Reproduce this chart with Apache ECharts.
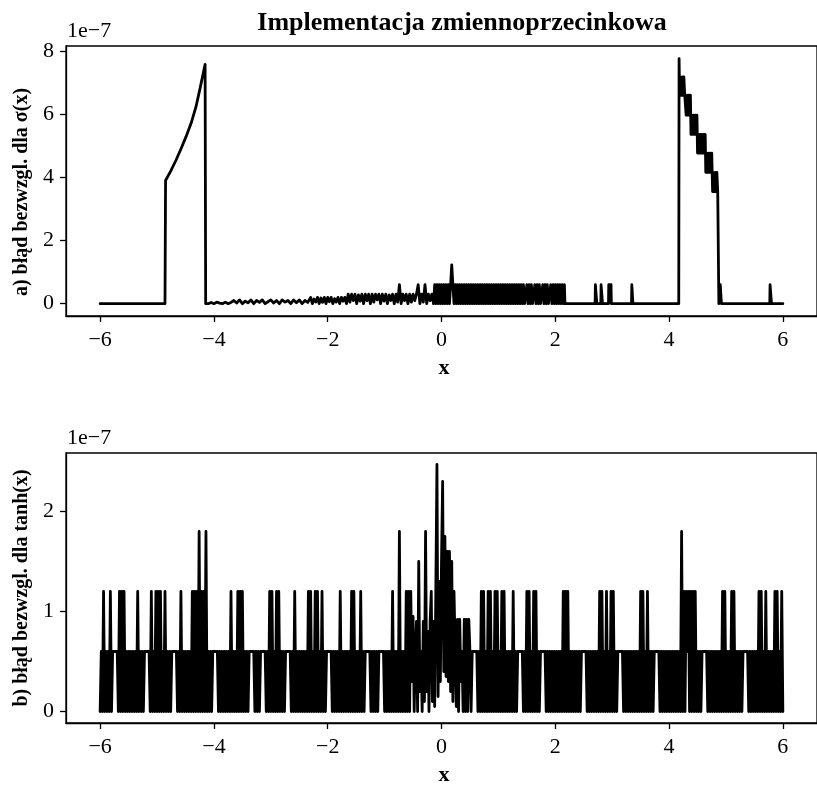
<!DOCTYPE html>
<html><head><meta charset="utf-8">
<script src="https://cdn.jsdelivr.net/npm/echarts@6/dist/echarts.min.js"></script>
<style>html,body{margin:0;padding:0;background:#fff}#c{width:817px;height:785px}</style>
</head><body><div id="c"></div>
<script>
// values in units of 1e-7
const xTicks = [-6, -4, -2, 0, 2, 4, 6];
const sigmaTicks = [0, 2, 4, 6, 8];
const tanhTicks = [0, 1, 2];

// sigma: left peak
const sigmaPeakX = [-6, -4.86, -4.85, -4.76, -4.665, -4.58, -4.49, -4.40, -4.316, -4.24, -4.155, -4.145];
const sigmaPeakY = [0, 0, 3.9, 4.2, 4.55, 4.9, 5.29, 5.72, 6.23, 6.85, 7.58, 0];

// sigma: far low noise, x from -4.10 step 0.05
const sigmaFarX0 = -4.10, sigmaFarDX = 0.05;
const sigmaFar = [
  0, 0.04, 0, 0.05, 0.02, 0, 0.05, 0, 0.04,
  0.1, 0.02, 0.12, 0, 0.08, 0.03, 0.12, 0, 0.1, 0.04, 0.12, 0, 0.06, 0.12, 0.02, 0.1, 0, 0.12, 0.05, 0.1, 0, 0.12, 0.03, 0.12, 0, 0.1, 0.04
];

// sigma: near noise, x from -2.30 step 0.03
const sigmaNearX0 = -2.30, sigmaNearDX = 0.03;
const sigmaNear = [
  0.2, 0, 0.15, 0.05, 0.2, 0, 0.18, 0.04, 0.2, 0, 0.2, 0.06, 0.2, 0, 0.16, 0.05, 0.2, 0, 0.2, 0.08, 0.2,
  0, 0.3, 0.05, 0.3, 0.1, 0.3, 0, 0.28, 0.08, 0.3, 0, 0.3, 0.1, 0.3, 0, 0.3, 0.05, 0.3, 0.12, 0.3, 0, 0.3, 0.08, 0.3, 0, 0.28, 0.1, 0.3, 0, 0.3, 0.05,
  0.6,
  0, 0.3, 0.1, 0.3, 0, 0.3, 0.05, 0.3, 0.1, 0.3,
  0.6,
  0, 0.3, 0.05,
  0.6,
  0, 0.3, 0.1, 0.3, 0
];

// sigma: dense band, x from -0.12 step 0.02
const sigmaBandX0 = -0.12, sigmaBandDX = 0.02;
const sigmaBand = [
  0.6, 0, 0.6, 0, 0.6, 0, 0.6, 0, 0.6, 0,
  0.6, 0, 0.6, 0, 0.6, 1.23, 0.6, 0, 0.6, 0,
  0.6, 0, 0.6, 0, 0.6, 0, 0.6, 0, 0.6, 0,
  0.6, 0, 0.6, 0, 0.6, 0, 0.6, 0, 0.6, 0,
  0.6, 0, 0.6, 0, 0.6, 0, 0.6, 0, 0.6, 0,
  0.6, 0, 0.6, 0, 0.6, 0, 0.6, 0, 0.6, 0,
  0.6, 0, 0.6, 0, 0.6, 0, 0.6, 0, 0.6, 0,
  0.6, 0, 0.6, 0, 0.6,
  0, 0.6, 0, 0.6, 0,
  0, 0.6, 0, 0.6, 0, 0.6, 0, 0, 0.6, 0,
  0.6, 0, 0.6, 0, 0, 0.6, 0, 0.6, 0, 0.6,
  0, 0, 0.6, 0, 0.6, 0, 0.6, 0, 0.6, 0,
  0.6, 0, 0.6, 0, 0.6
];

// sigma: right part
const sigmaRightX = [2.17, 2.70, 2.705, 2.725, 2.73, 2.80, 2.805, 2.825, 2.83, 2.935, 2.94, 2.98, 2.985, 3.34, 3.345, 3.36, 3.365, 4.17, 4.176,
  4.185, 4.20, 4.215, 4.23, 4.245, 4.26, 4.275, 4.29, 4.30, 4.315, 4.33, 4.345, 4.36, 4.375, 4.385, 4.40, 4.415, 4.43, 4.445, 4.46, 4.475, 4.49,
  4.50, 4.515, 4.53, 4.545, 4.56, 4.575, 4.59, 4.605, 4.62, 4.635, 4.645, 4.66, 4.675, 4.69, 4.705, 4.72, 4.735, 4.75,
  4.765, 4.78, 4.795, 4.81, 4.825, 4.84, 4.855, 4.87, 4.875, 4.895, 4.90, 4.915, 4.92, 5.77, 5.775, 5.795, 5.80, 6.0];
const sigmaRightY = [0, 0, 0.6, 0.6, 0, 0, 0.6, 0.6, 0, 0, 0.6, 0.6, 0, 0, 0.6, 0.6, 0, 0, 7.76,
  6.6, 7.18, 6.6, 7.18, 6.6, 7.18, 6.6, 6.6, 5.97, 6.6, 5.97, 6.6, 5.97, 6.6, 5.36, 5.97, 5.36, 5.97, 5.36, 5.97, 5.36, 5.97,
  4.77, 5.36, 4.77, 5.36, 4.77, 5.36, 4.77, 5.36, 4.77, 5.36, 4.16, 4.77, 4.16, 4.77, 4.16, 4.77, 4.16, 4.77,
  3.55, 4.16, 3.55, 4.16, 3.55, 4.16, 3.55, 3.55, 0, 0, 0.6, 0.6, 0, 0, 0.6, 0.6, 0, 0];

// tanh: x from -6 step 0.02
const tanhX0 = -6, tanhDX = 0.02;
const tanhErr = [
  0, .6, 0, 1.2, 0, .6, 0, .6, 0, 1.2, 0, .6, .6, .6, .6, .6, 0, 1.2, 0, 1.2,
  0, 1.2, 0, .6, 0, .6, 0, .6, 0, .6, 0, .6, 0, 1.2, 0, .6, 0, .6, 0, .6,
  .6, .6, .6, .6, 0, 1.2, 0, .6, 0, 1.2, 0, 1.2, 0, 1.2, 0, .6, 0, 1.2, 0, .6,
  0, .6, 0, .6, .6, .6, .6, .6, 0, .6, 0, 1.2, 0, .6, 0, .6, 0, .6, 0, .6,
  0, 1.2, 0, 1.2, 0, 1.2, 0, 1.8, 0, 1.2, 0, 1.2, 0, 1.8, 0, .6, 0, .6, 0, .6,
  .6, .6, .6, .6, 0, .6, 0, .6, 0, .6, 0, .6, 0, .6, 0, 1.2, 0, .6, 0, .6,
  0, 1.2, 0, 1.2, 0, 1.2, 0, .6, 0, .6, 0, .6, .6, .6, .6, .6, 0, .6, 0, .6,
  0, .6, .6, .6, .6, .6, 0, .6, 0, 1.2, 0, 1.2, 0, .6, 0, 1.2, 0, 1.2, 0, .6,
  0, .6, 0, .6, .6, .6, .6, .6, 0, .6, 0, 1.2, 0, .6, 0, .6, 0, .6, 0, .6,
  0, .6, 0, 1.2, 0, 1.2, 0, .6, 0, 1.2, 0, 1.2, 0, .6, 0, 1.2, 0, .6, 0, .6,
  .6, .6, .6, .6, 0, .6, 0, .6, 0, .6, 0, 1.2, 0, .6, 0, .6, 0, .6, 0, .6,
  0, 1.2, 0, 1.2, 0, .6, 0, .6, 0, 1.2, 0, .6, 0, .6, .6, .6, .6, .6, 0, .6,
  0, .6, 0, .6, 0, .6, .6, .6, .6, .6, 0, .6, 0, .6, 0, .6, 0, 1.2, 0, .6,
  0, .6, 0, 1.8, 0, .6, 0, .6, 0, 1.2, 0, 1.2, 0, 1.2, .3, .95, 0, .6, .9, 0,
  1.5, .2, .6, 0, .9, .1, 1.8, .2, .8, 0, .9, 1.2, .1, .9, .05, 1.2, 2.47, .15, 1.3, .3,
  1.5, 2.3, .4, 1.75, .35, 1.6, .3, 1.6, .2, 1.5, .1, 1.2, 1.2, .05, .92, 0, .92, .3, .6, 0,
  .92, 0, .92, 0, .92, .6, 0, .6, .6, .6, .6, .6, 0, .6, 0, 1.2, 0, 1.2, 0, .6,
  0, 1.2, 0, 1.2, 0, .6, 0, 1.2, 0, 1.2, 0, .6, 0, 1.2, 0, 1.2, 0, .6, 0, .6,
  0, .6, 0, 1.2, 0, .6, 0, .6, .6, .6, .6, .6, 0, .6, 0, 1.2, 0, 1.2, 0, .6,
  0, 1.2, 0, 1.2, 0, .6, 0, .6, .6, .6, .6, .6, 0, .6, 0, .6, 0, .6, 0, .6,
  0, .6, 0, .6, 0, .6, 0, 1.2, 0, 1.2, 0, 1.2, 0, .6, 0, .6, 0, .6, 0, .6,
  0, .6, 0, .6, .6, .6, .6, .6, 0, .6, 0, .6, 0, .6, 0, .6, 0, .6, 0, 1.2,
  0, 1.2, 0, .6, 0, 1.2, 0, .6, 0, 1.2, 0, 1.2, 0, .6, 0, .6, .6, .6, .6, .6,
  0, .6, 0, .6, 0, .6, 0, .6, 0, .6, 0, .6, 0, .6, 0, 1.2, 0, 1.2, 0, .6,
  0, 1.2, 0, .6, 0, .6, 0, .6, .6, .6, .6, .6, 0, .6, 0, .6, 0, .6, 0, .6,
  0, .6, 0, .6, 0, .6, 0, .6, 0, .6, 0, 1.8, 0, 1.2, 0, 1.2, .6, 1.2, 0, 1.2,
  0, 1.2, 0, 1.2, 0, .6, 0, .6, 0, .6, .6, .6, .6, .6, 0, .6, 0, .6, 0, .6,
  0, .6, 0, .6, 0, .6, 0, 1.2, 0, 1.2, 0, .6, 0, .6, 0, 1.2, 0, 1.2, 0, .6,
  0, .6, 0, .6, 0, .6, .6, .6, .6, .6, 0, .6, 0, .6, 0, .6, 0, .6, 0, 1.2,
  0, 1.2, 0, .6, 0, 1.2, 0, .6, 0, .6, 0, .6, 0, 1.2, 0, 1.2, 0, .6, 0, 1.2,
  0
];

const sigmaData = [];
sigmaPeakX.forEach((x, i) => sigmaData.push([x, sigmaPeakY[i]]));
sigmaFar.forEach((v, i) => sigmaData.push([+(sigmaFarX0 + i * sigmaFarDX).toFixed(4), v]));
sigmaNear.forEach((v, i) => sigmaData.push([+(sigmaNearX0 + i * sigmaNearDX).toFixed(4), v]));
sigmaBand.forEach((v, i) => sigmaData.push([+(sigmaBandX0 + i * sigmaBandDX).toFixed(4), v]));
sigmaRightX.forEach((x, i) => sigmaData.push([x, sigmaRightY[i]]));
const tanhData = tanhErr.map((v, i) => [+(tanhX0 + i * tanhDX).toFixed(4), v]);

const FONT = '"Liberation Serif", "Times New Roman", serif';
const minus = v => String(v).replace('-', '\u2212');

function xAxisCfg(gi) {
  return {
    type: 'value', gridIndex: gi, min: -6.6, max: 6.6,
    axisLine: { show: true, onZero: false, lineStyle: { color: '#000', width: 1.3 } },
    axisTick: { show: true, length: 6, lineStyle: { color: '#000', width: 1.3 }, customValues: xTicks },
    axisLabel: { customValues: xTicks, formatter: minus, color: '#000', fontFamily: FONT, fontSize: 22, margin: 13 },
    splitLine: { show: false }
  };
}
function yAxisCfg(gi, min, max, ticks) {
  return {
    type: 'value', gridIndex: gi, min: min, max: max,
    axisLine: { show: true, onZero: false, lineStyle: { color: '#000', width: 1.3 } },
    axisTick: { show: true, length: 6, lineStyle: { color: '#000', width: 1.3 }, customValues: ticks },
    axisLabel: { customValues: ticks, formatter: minus, color: '#000', fontFamily: FONT, fontSize: 22, margin: 12 },
    splitLine: { show: false }
  };
}

const chart = echarts.init(document.getElementById('c'), null, { renderer: 'canvas' });
chart.setOption({
  animation: false,
  backgroundColor: '#fff',
  grid: [
    { left: 66, right: -5, top: 46, height: 270, show: true, borderColor: '#000', borderWidth: 1.3 },
    { left: 66, right: -5, top: 453, height: 270, show: true, borderColor: '#000', borderWidth: 1.3 }
  ],
  xAxis: [xAxisCfg(0), xAxisCfg(1)],
  yAxis: [yAxisCfg(0, -0.39, 8.16, sigmaTicks), yAxisCfg(1, -0.115, 2.585, tanhTicks)],
  series: [
    { type: 'line', xAxisIndex: 0, yAxisIndex: 0, data: sigmaData, showSymbol: false, symbol: 'none',
      lineStyle: { color: '#000', width: 2.8, join: 'round', cap: 'round' } },
    { type: 'line', xAxisIndex: 1, yAxisIndex: 1, data: tanhData, showSymbol: false, symbol: 'none',
      lineStyle: { color: '#000', width: 2.8, join: 'round', cap: 'round' } }
  ],
  graphic: [
    { type: 'text', x: 462, y: 23, style: { text: 'Implementacja zmiennoprzecinkowa', font: 'bold 26px ' + FONT, textAlign: 'center', textVerticalAlign: 'middle', fill: '#000' } },
    { type: 'text', x: 67, y: 31, style: { text: '1e\u22127', font: '22px ' + FONT, textAlign: 'left', textVerticalAlign: 'middle', fill: '#000' } },
    { type: 'text', x: 67, y: 438, style: { text: '1e\u22127', font: '22px ' + FONT, textAlign: 'left', textVerticalAlign: 'middle', fill: '#000' } },
    { type: 'text', x: 444, y: 368, style: { text: 'x', font: 'bold 22px ' + FONT, textAlign: 'center', textVerticalAlign: 'middle', fill: '#000' } },
    { type: 'text', x: 444, y: 775, style: { text: 'x', font: 'bold 22px ' + FONT, textAlign: 'center', textVerticalAlign: 'middle', fill: '#000' } },
    { type: 'text', x: 22, y: 192, rotation: Math.PI / 2, style: { text: 'a) błąd bezwzgl. dla σ(x)', font: 'bold 20px ' + FONT, textAlign: 'center', textVerticalAlign: 'middle', fill: '#000' } },
    { type: 'text', x: 22, y: 588, rotation: Math.PI / 2, style: { text: 'b) błąd bezwzgl. dla tanh(x)', font: 'bold 20px ' + FONT, textAlign: 'center', textVerticalAlign: 'middle', fill: '#000' } }
  ]
});
</script>
</body></html>
